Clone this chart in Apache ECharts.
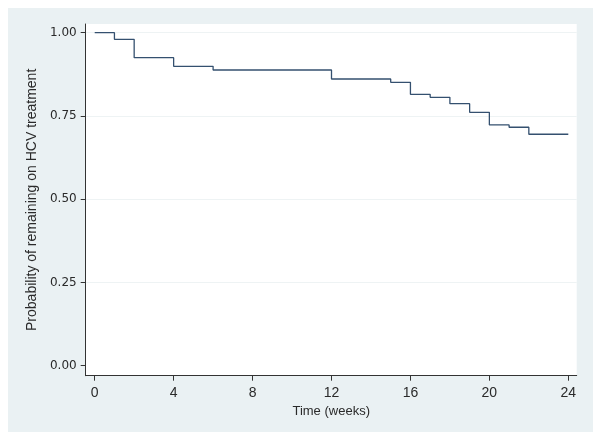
<!DOCTYPE html>
<html>
<head>
<meta charset="utf-8">
<script src="https://cdn.jsdelivr.net/npm/echarts@6/dist/echarts.min.js"></script>
<style>
html,body{margin:0;padding:0;background:#ffffff;}
#chart{width:600px;height:438px;}
</style>
</head>
<body>
<div id="chart"></div>
<script>
// Data
var weeks = [0, 1, 2, 4, 6, 12, 15, 16, 17, 18, 19, 20, 21, 22, 24];
var survival = [1.000, 0.980, 0.925, 0.899, 0.888, 0.861, 0.851, 0.815, 0.806, 0.787, 0.761, 0.723, 0.716, 0.695, 0.695];
var xTicks = [0, 4, 8, 12, 16, 20, 24];
var yTicks = [0, 0.25, 0.5, 0.75, 1];
var gridValues = [0.25, 0.5, 0.75, 1];
var xTitle = 'Time (weeks)';
var yTitle = 'Probability of remaining on HCV treatment';

var chart = echarts.init(document.getElementById('chart'), null, {renderer: 'canvas'});

var plotLeft = 85.7, plotTop = 24, plotW = 491, plotH = 351.7;
var pxPerWeek = (568.3 - 94.7) / 24;
var xMin = -(94.7 - plotLeft) / pxPerWeek;
var xMax = xMin + plotW / pxPerWeek;
var pxPerUnit = 333;
var y0 = 365.7;
var yMin = -(plotTop + plotH - y0) / pxPerUnit;
var yMax = (y0 - plotTop) / pxPerUnit;

var txt = '#2a2a2a';
var axisCol = '#333333';

chart.setOption({
  animation: false,
  backgroundColor: '#ffffff',
  graphic: [{
    type: 'rect', silent: true, z: -10,
    shape: {x: 8, y: 8, width: 585, height: 424},
    style: {fill: '#eaf1f3'}
  }],
  grid: [
    {left: plotLeft, top: plotTop, width: plotW, height: plotH, show: true, backgroundColor: '#ffffff', borderWidth: 0, containLabel: false},
    {left: plotLeft, top: y0 - pxPerUnit, width: plotW, height: pxPerUnit * 0.75, show: false, containLabel: false}
  ],
  xAxis: [
    {
      type: 'value', gridIndex: 0, min: xMin, max: xMax,
      name: xTitle, nameLocation: 'middle', nameGap: 24,
      nameTextStyle: {fontFamily: 'Liberation Sans, Arial, sans-serif', fontSize: 13, color: txt},
      axisLine: {show: true, onZero: false, lineStyle: {color: axisCol, width: 1}},
      axisTick: {show: true, length: 5, customValues: xTicks, lineStyle: {color: axisCol}},
      axisLabel: {show: true, customValues: xTicks, margin: 10, color: txt,
        fontFamily: "'Liberation Sans Narrow', 'Arial Narrow', 'Liberation Sans', Arial, sans-serif", fontSize: 14,
        formatter: function (v) { return String(v); }},
      splitLine: {show: false}
    },
    {type: 'value', gridIndex: 1, min: 0, max: 24, show: false, splitLine: {show: false}}
  ],
  yAxis: [
    {
      type: 'value', gridIndex: 0, min: yMin, max: yMax,
      name: yTitle, nameLocation: 'middle', nameGap: 43, nameRotate: 90,
      nameTextStyle: {fontFamily: 'Liberation Sans, Arial, sans-serif', fontSize: 14, color: txt},
      axisLine: {show: true, onZero: false, lineStyle: {color: axisCol, width: 1}},
      axisTick: {show: true, length: 5, customValues: yTicks, lineStyle: {color: axisCol}},
      axisLabel: {show: true, customValues: yTicks, margin: 9, color: txt,
        fontFamily: "'DejaVu Sans', sans-serif", fontSize: 12,
        formatter: function (v) { return v.toFixed(2); }},
      splitLine: {show: false}
    },
    {
      type: 'value', gridIndex: 1, min: 0.25, max: 1, interval: 0.25,
      axisLine: {show: false}, axisTick: {show: false}, axisLabel: {show: false},
      splitLine: {show: true, lineStyle: {color: '#eef3f4', width: 1}}
    }
  ],
  series: [{
    type: 'line', xAxisIndex: 0, yAxisIndex: 0,
    step: 'end', symbol: 'none', showSymbol: false,
    lineStyle: {color: '#34506f', width: 1.3},
    data: weeks.map(function (w, i) { return [w, survival[i]]; }),
    z: 5
  }]
});
</script>
</body>
</html>
